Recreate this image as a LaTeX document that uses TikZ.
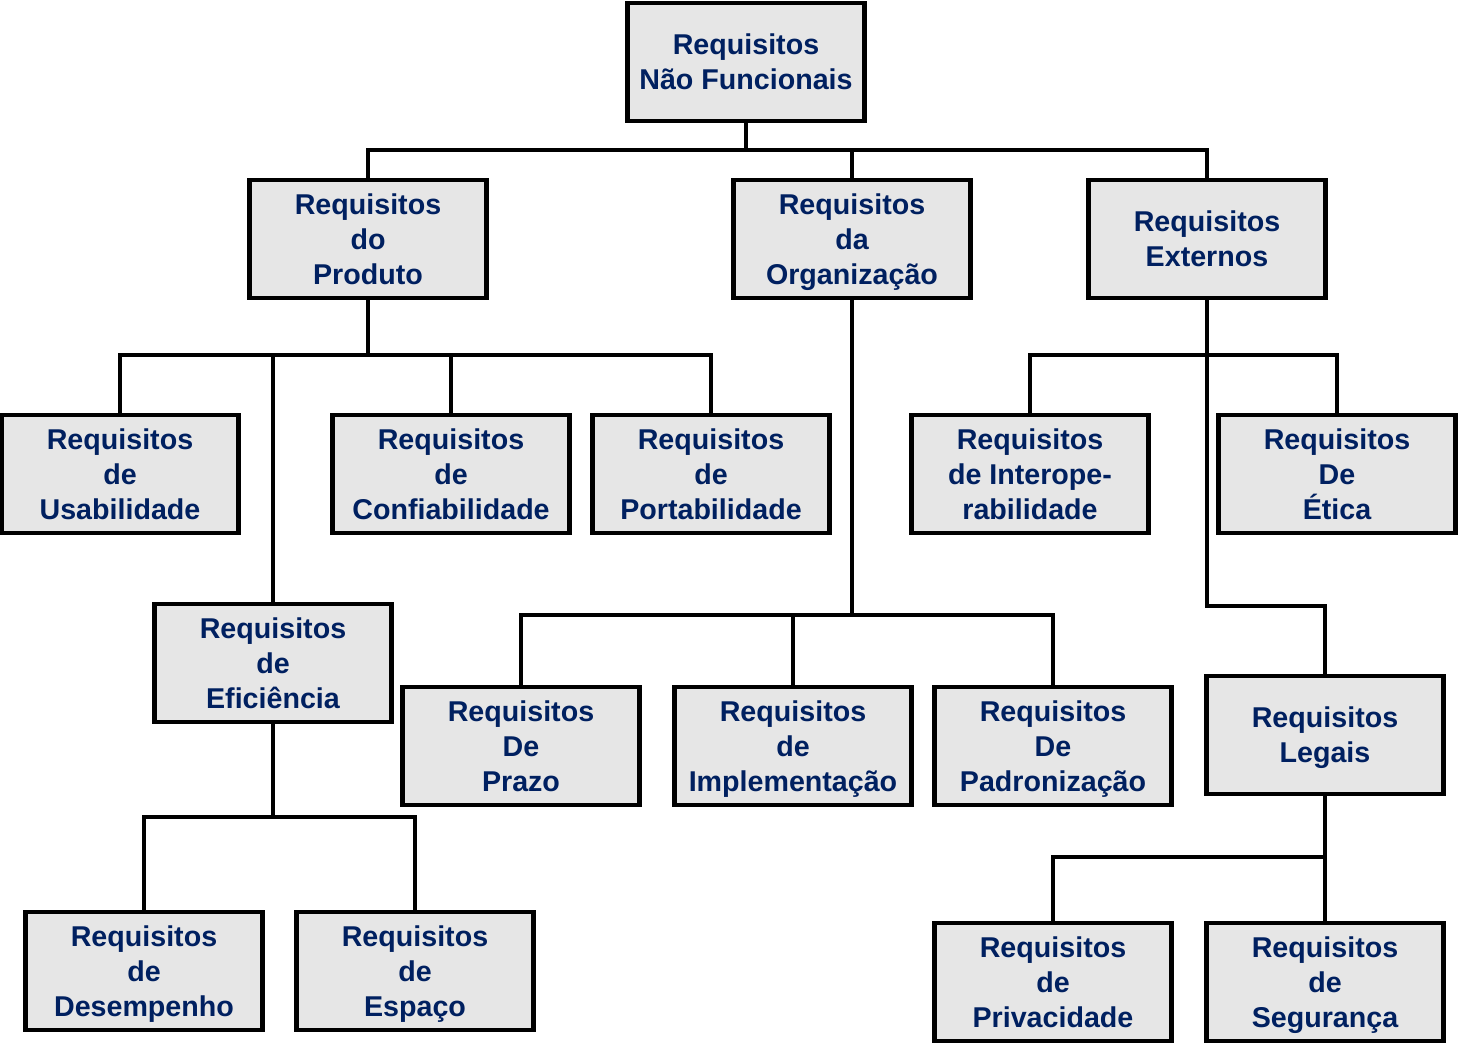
\documentclass[tikz,border=0pt]{standalone}
\usepackage{fontspec}
\setmainfont{Liberation Sans}
\usepackage{tikz}

\definecolor{reqtext}{RGB}{0,32,96}
\definecolor{reqfill}{RGB}{230,230,230}

\begin{document}
\begin{tikzpicture}[x=0.02cm,y=-0.02cm,line width=2.4pt,
  req/.style={draw, fill=reqfill, text=reqtext, align=center,
    minimum width=4.74cm, minimum height=2.36cm, inner sep=0pt, text depth=0pt,
    font=\bfseries\fontsize{16.3}{19.8}\selectfont}]

\useasboundingbox (0,0) rectangle (1458,1053);

\node[req] (root) at (746,62)  {Requisitos\\Não Funcionais};

\node[req] (prod) at (368,239)  {Requisitos\\do\\Produto};
\node[req] (org)  at (852,239)  {Requisitos\\da\\Organização};
\node[req] (ext)  at (1207,239) {Requisitos\\Externos};

\node[req] (usab)  at (120,474)  {Requisitos\\de\\Usabilidade};
\node[req] (conf)  at (451,474)  {Requisitos\\de\\Confiabilidade};
\node[req] (port)  at (711,474)  {Requisitos\\de\\Portabilidade};
\node[req] (inter) at (1030,474) {Requisitos\\de Interope-\\rabilidade};
\node[req] (etica) at (1337,474) {Requisitos\\De\\Ética};

\node[req] (efic)  at (273,663)  {Requisitos\\de\\Eficiência};
\node[req] (prazo) at (521,746)  {Requisitos\\De\\Prazo};
\node[req] (impl)  at (793,746)  {Requisitos\\de\\Implementação};
\node[req] (padr)  at (1053,746) {Requisitos\\De\\Padronização};
\node[req] (legal) at (1325,735) {Requisitos\\Legais};

\node[req] (desemp) at (144,971)  {Requisitos\\de\\Desempenho};
\node[req] (espaco) at (415,971)  {Requisitos\\de\\Espaço};
\node[req] (priv)   at (1053,982) {Requisitos\\de\\Privacidade};
\node[req] (seg)    at (1325,982) {Requisitos\\de\\Segurança};

\coordinate (busroot) at (746,150);
\coordinate (busprod) at (368,355);
\coordinate (busorg)  at (852,615);
\coordinate (busext)  at (1207,355);
\coordinate (buslegal) at (1207,606);
\coordinate (busefic) at (273,817);
\coordinate (busleg2) at (1325,857);

\draw (root.south) -- (busroot);
\draw (prod.north) |- (busroot) -| (ext.north);
\draw (org.north) -- (org.north |- busroot);

\draw (prod.south) -- (busprod);
\draw (usab.north) |- (busprod) -| (port.north);
\draw (conf.north) -- (conf.north |- busprod);
\draw (efic.north) -- (efic.north |- busprod);

\draw (org.south) -- (busorg);
\draw (prazo.north) |- (busorg) -| (padr.north);
\draw (impl.north) -- (impl.north |- busorg);

\draw (ext.south) -- (buslegal) -| (legal.north);
\draw (inter.north) |- (busext) -| (etica.north);

\draw (efic.south) -- (busefic);
\draw (desemp.north) |- (busefic) -| (espaco.north);

\draw (legal.south) -- (seg.north);
\draw (priv.north) |- (busleg2);

\end{tikzpicture}
\end{document}
